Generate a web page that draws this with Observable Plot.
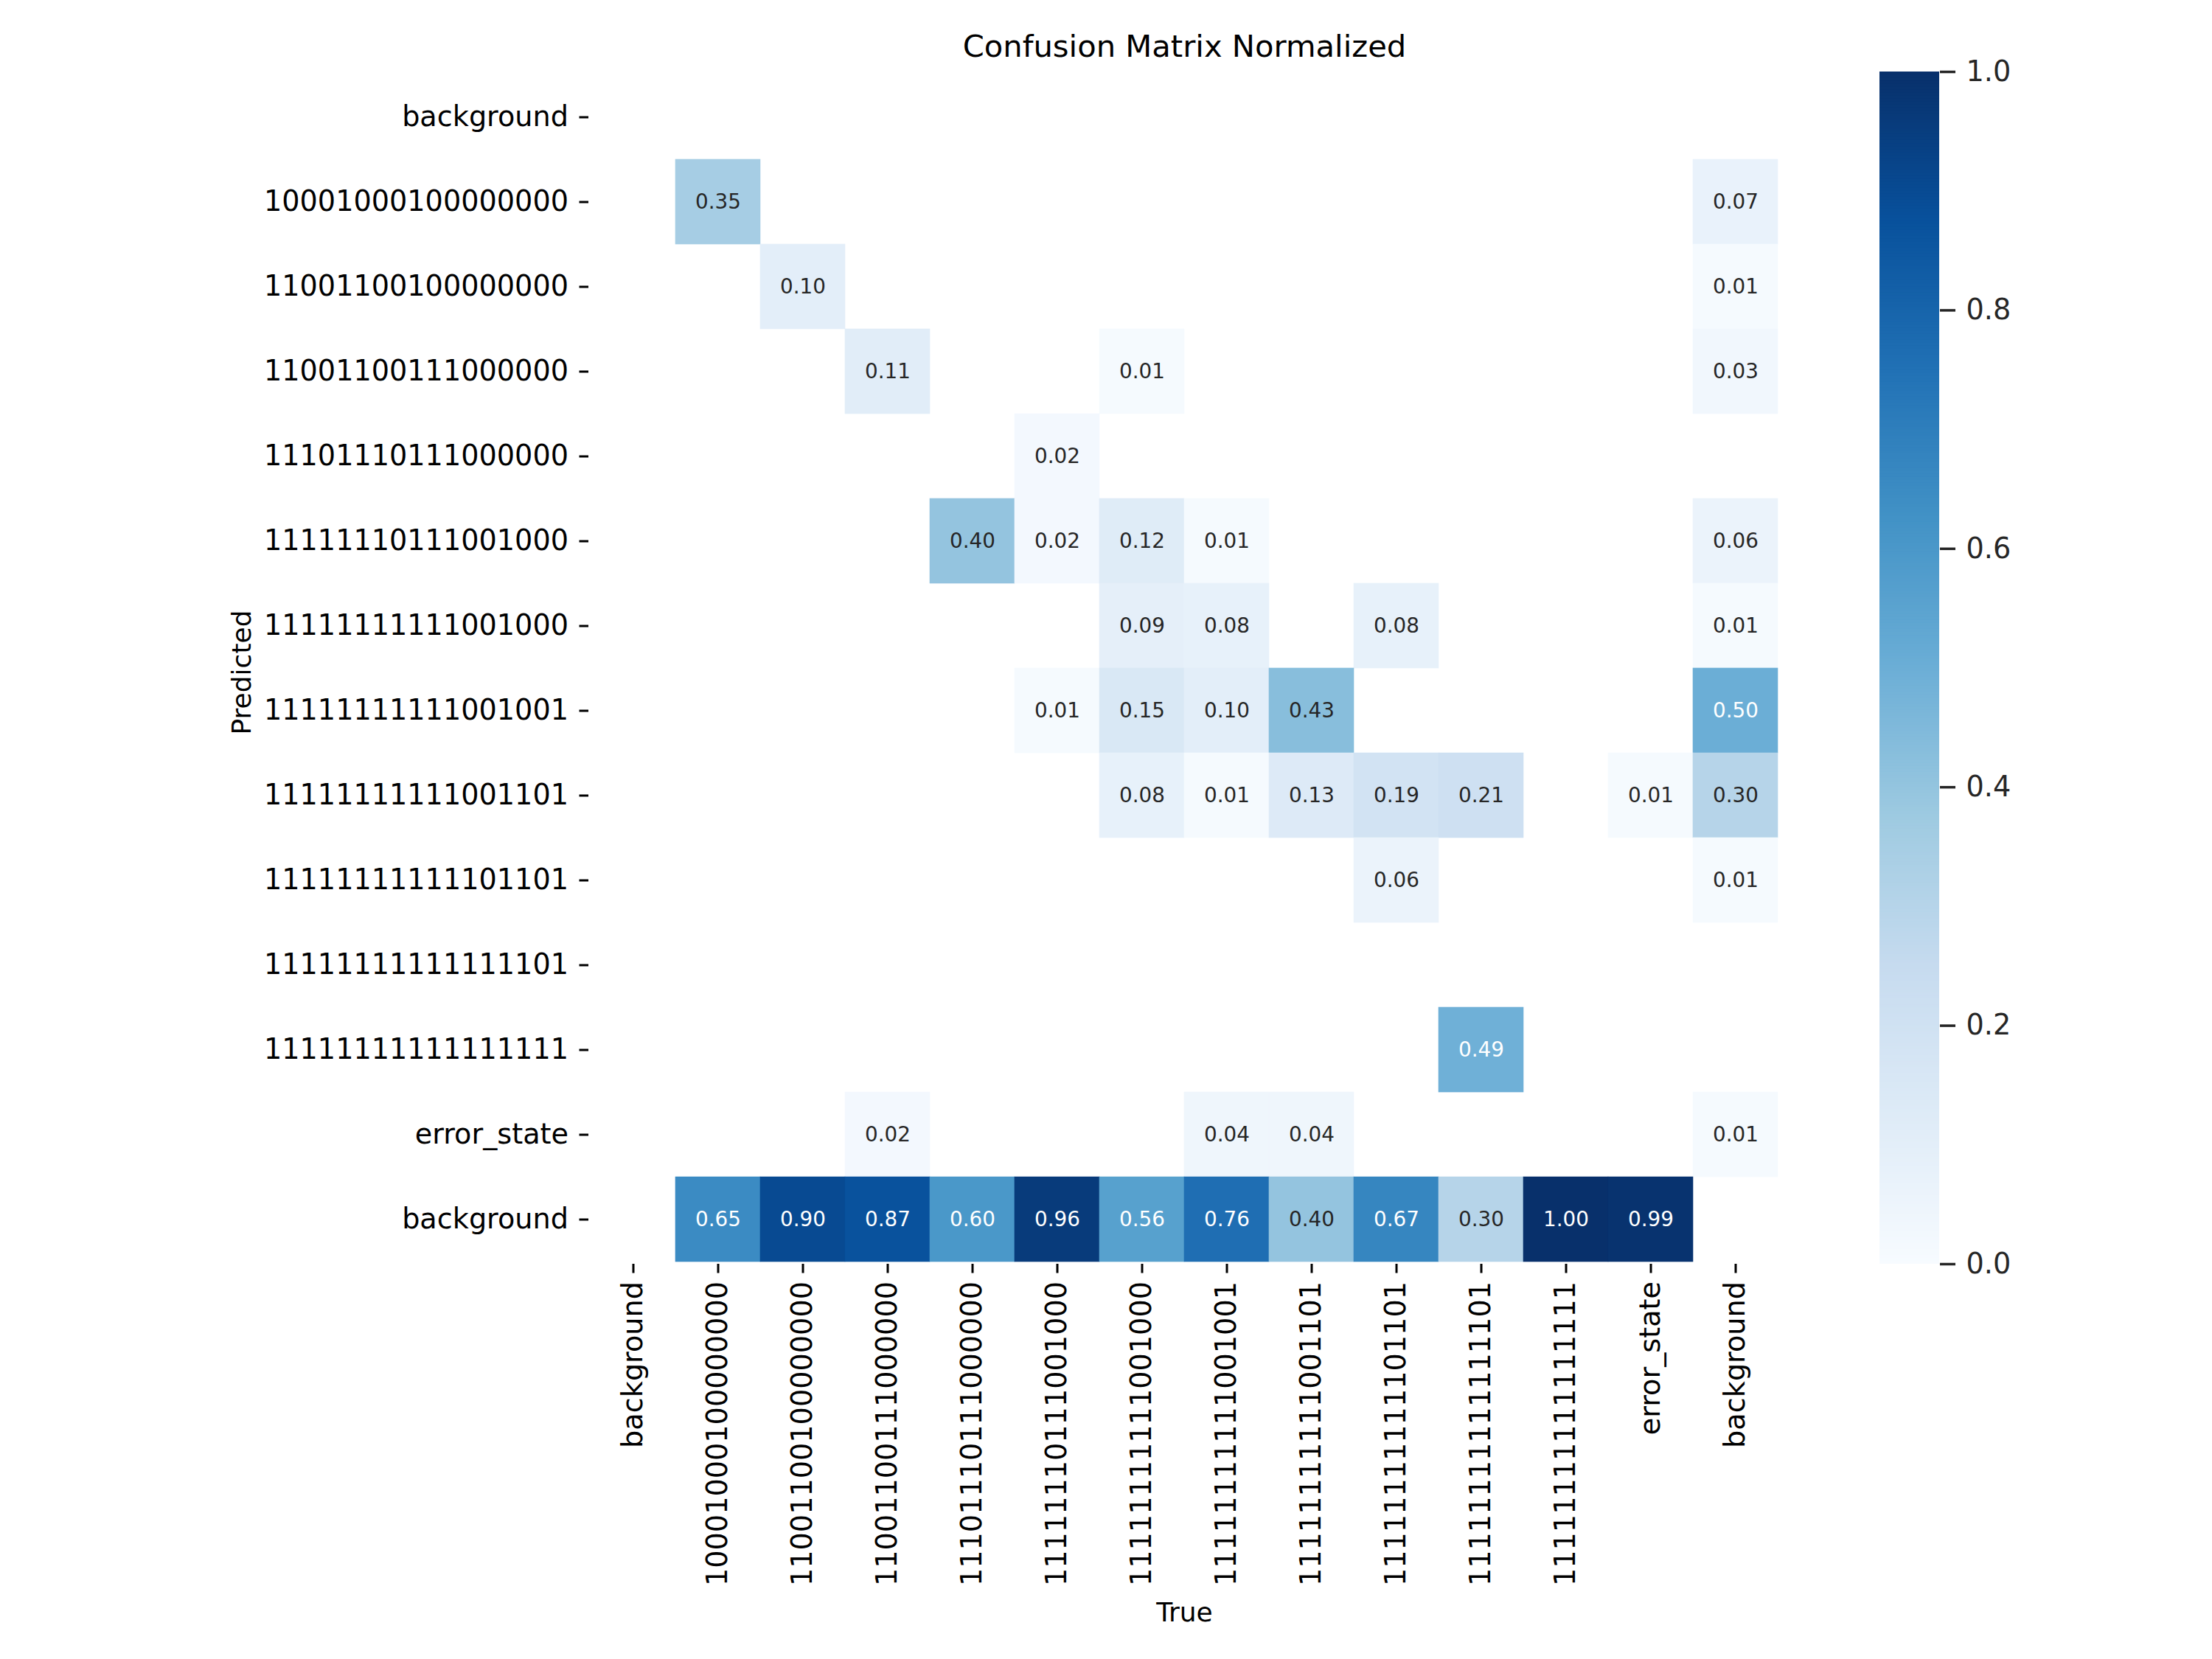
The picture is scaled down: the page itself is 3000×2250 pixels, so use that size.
<!DOCTYPE html>
<html>
<head>
<meta charset="utf-8">
<script src="https://cdn.jsdelivr.net/npm/d3@7"></script>
<script src="https://cdn.jsdelivr.net/npm/@observablehq/plot@0.6"></script>
<style>
  html, body { margin: 0; padding: 0; background: #fff; }
  #wrap { position: relative; width: 3000px; height: 2250px; background: #fff; overflow: hidden; }
  #wrap svg { position: absolute; top: 0; }
</style>
</head>
<body>
<div id="wrap"></div>
<script>
// ---- Data (rows = Predicted, columns = True) ----
const classLabels = [
  "background",
  "10001000100000000",
  "11001100100000000",
  "11001100111000000",
  "11101110111000000",
  "11111110111001000",
  "11111111111001000",
  "11111111111001001",
  "11111111111001101",
  "11111111111101101",
  "11111111111111101",
  "11111111111111111",
  "error_state",
  "background"
];

const row00 = [0, 0,    0,    0,    0,    0,    0,    0,    0,    0,    0,    0,    0,    0   ];
const row01 = [0, 0.35, 0,    0,    0,    0,    0,    0,    0,    0,    0,    0,    0,    0.07];
const row02 = [0, 0,    0.10, 0,    0,    0,    0,    0,    0,    0,    0,    0,    0,    0.01];
const row03 = [0, 0,    0,    0.11, 0,    0,    0.01, 0,    0,    0,    0,    0,    0,    0.03];
const row04 = [0, 0,    0,    0,    0,    0.02, 0,    0,    0,    0,    0,    0,    0,    0   ];
const row05 = [0, 0,    0,    0,    0.40, 0.02, 0.12, 0.01, 0,    0,    0,    0,    0,    0.06];
const row06 = [0, 0,    0,    0,    0,    0,    0.09, 0.08, 0,    0.08, 0,    0,    0,    0.01];
const row07 = [0, 0,    0,    0,    0,    0.01, 0.15, 0.10, 0.43, 0,    0,    0,    0,    0.50];
const row08 = [0, 0,    0,    0,    0,    0,    0.08, 0.01, 0.13, 0.19, 0.21, 0,    0.01, 0.30];
const row09 = [0, 0,    0,    0,    0,    0,    0,    0,    0,    0.06, 0,    0,    0,    0.01];
const row10 = [0, 0,    0,    0,    0,    0,    0,    0,    0,    0,    0,    0,    0,    0   ];
const row11 = [0, 0,    0,    0,    0,    0,    0,    0,    0,    0,    0.49, 0,    0,    0   ];
const row12 = [0, 0,    0,    0.02, 0,    0,    0,    0.04, 0.04, 0,    0,    0,    0,    0.01];
const row13 = [0, 0.65, 0.90, 0.87, 0.60, 0.96, 0.56, 0.76, 0.40, 0.67, 0.30, 1.00, 0.99, 0   ];

const predictedRows = [row00, row01, row02, row03, row04, row05, row06, row07,
                       row08, row09, row10, row11, row12, row13];

const colorbarTicks = [0, 0.2, 0.4, 0.6, 0.8, 1.0];
const bluesStops = ["#f7fbff", "#deebf7", "#c6dbef", "#9ecae1", "#6baed6",
                    "#4292c6", "#2171b5", "#08519c", "#08306b"];

const titleText = "Confusion Matrix Normalized";
const xLabel = "True";
const yLabel = "Predicted";

// ---- Build table ----
const cells = [];
predictedRows.forEach((row, i) => row.forEach((v, j) => {
  if (v >= 0.005) cells.push({pred: i, truth: j, v});
}));

const bluesScale = d3.scaleLinear()
  .domain(d3.range(bluesStops.length).map(i => i / (bluesStops.length - 1)))
  .range(bluesStops)
  .interpolate(d3.interpolateRgb)
  .clamp(true);

function relLum(c) {
  const {r, g, b} = d3.rgb(c);
  const f = x => { x /= 255; return x <= 0.03928 ? x / 12.92 : Math.pow((x + 0.055) / 1.055, 2.4); };
  return 0.2126 * f(r) + 0.7152 * f(g) + 0.0722 * f(b);
}
const isDark = d => relLum(bluesScale(d.v)) > 0.408;

const idx = d3.range(classLabels.length);
const colorOpts = {type: "linear", domain: [0, 1], interpolate: t => bluesScale(t)};
const FONT = '"DejaVu Sans", "Liberation Sans", sans-serif';

// ---- Geometry ----
const W = 3000, H = 2250;
const frameLeft = 798, frameRight = 2414, frameTop = 97, frameBottom = 1714;

const main = Plot.plot({
  width: W, height: H,
  marginLeft: frameLeft, marginRight: W - frameRight,
  marginTop: frameTop, marginBottom: H - frameBottom,
  style: {fontFamily: FONT, fontSize: "38.2px", color: "#000", background: "transparent", overflow: "visible"},
  x: {type: "band", domain: idx, padding: 0, axis: null},
  y: {type: "band", domain: idx, padding: 0, axis: null},
  color: colorOpts,
  marks: [
    Plot.cell(cells, {x: "truth", y: "pred", fill: "v", stroke: "v", strokeWidth: 0.6}),
    Plot.text(cells.filter(isDark), {x: "truth", y: "pred", text: d => d.v.toFixed(2), fill: "#262626", fontSize: 27.8}),
    Plot.text(cells.filter(d => !isDark(d)), {x: "truth", y: "pred", text: d => d.v.toFixed(2), fill: "#ffffff", fontSize: 27.8}),
    Plot.axisX(idx, {anchor: "bottom", tickFormat: i => classLabels[i], tickRotate: -90,
      tickSize: 12.5, tickPadding: 11, fontSize: 38.2, strokeWidth: 3, label: null}),
    Plot.axisY(idx, {anchor: "left", tickFormat: i => classLabels[i],
      tickSize: 12.5, tickPadding: 15, fontSize: 38.2, strokeWidth: 3, label: null}),
    Plot.text([titleText], {text: d => d, frameAnchor: "top", dy: -21, lineAnchor: "bottom", fontSize: 41.7, fill: "#000"}),
    Plot.text([xLabel], {text: d => d, frameAnchor: "bottom", dy: 484, lineAnchor: "bottom", fontSize: 36, fill: "#000"}),
    Plot.text([yLabel], {text: d => d, frameAnchor: "left", dx: -459, dy: 6, rotate: -90, textAnchor: "middle", lineAnchor: "bottom", fontSize: 36, fill: "#000"})
  ]
});

// ---- Colorbar ----
const cbLeft = 2549, cbWidth = 81, cbSvgWidth = 451;
const nSteps = 400;
const cbSteps = d3.range(nSteps).map(i => i / nSteps);
const cb = Plot.plot({
  width: cbSvgWidth, height: H,
  marginLeft: 0, marginRight: cbSvgWidth - cbWidth,
  marginTop: frameTop, marginBottom: H - frameBottom,
  style: {fontFamily: FONT, fontSize: "38.2px", color: "#262626", background: "transparent", overflow: "visible"},
  y: {domain: [0, 1], axis: null},
  color: colorOpts,
  marks: [
    Plot.barY(cbSteps, {y1: d => d, y2: d => Math.min(1, d + 1.8 / nSteps), fill: d => d + 0.5 / nSteps}),
    Plot.axisY(colorbarTicks, {anchor: "right", tickFormat: d3.format(".1f"),
      tickSize: 21, tickPadding: 15, fontSize: 38.2, strokeWidth: 3.5, label: null})
  ]
});
cb.style.left = cbLeft + "px";
main.style.left = "0px";

const wrap = document.getElementById("wrap");
wrap.appendChild(main);
wrap.appendChild(cb);
</script>
</body>
</html>
